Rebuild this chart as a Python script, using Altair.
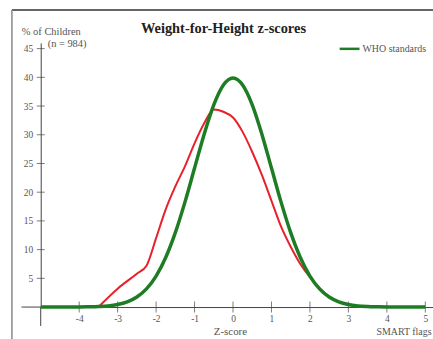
import altair as alt
import pandas as pd

# WHO standard curve (% of children by z-score)
who_z = [-5.0, -4.75, -4.5, -4.25, -4.0, -3.75, -3.5, -3.25, -3.0, -2.75, -2.5, -2.25, -2.0,
         -1.75, -1.5, -1.25, -1.0, -0.75, -0.5, -0.25, 0.0, 0.25, 0.5, 0.75, 1.0, 1.25, 1.5,
         1.75, 2.0, 2.25, 2.5, 2.75, 3.0, 3.25, 3.5, 3.75, 4.0, 4.25, 4.5, 4.75, 5.0]
who_pct = [0.0, 0.0, 0.0, 0.01, 0.01, 0.04, 0.09, 0.2, 0.44, 0.91, 1.75, 3.17, 5.4,
           8.63, 12.95, 18.27, 24.2, 30.11, 35.21, 38.67, 39.89, 38.67, 35.21, 30.11, 24.2, 18.27, 12.95,
           8.63, 5.4, 3.17, 1.75, 0.91, 0.44, 0.2, 0.09, 0.04, 0.01, 0.01, 0.0, 0.0, 0.0]

# Survey data curve
smart_z = [-3.5, -3.0, -2.5, -2.25, -2.0, -1.75, -1.5, -1.25, -1.0, -0.75, -0.5, -0.25, 0.0,
           0.25, 0.5, 0.75, 1.0, 1.25, 1.5, 1.75, 2.0, 2.5, 3.0, 3.5]
smart_pct = [0.0, 3.2, 5.8, 7.2, 12.0, 17.0, 21.0, 24.5, 28.5, 32.0, 34.4, 34.0, 33.0,
             30.5, 27.0, 23.0, 18.5, 14.0, 10.5, 7.5, 5.2, 1.8, 0.4, 0.0]

x_ticks = [-4, -3, -2, -1, 0, 1, 2, 3, 4, 5]
y_ticks = [5, 10, 15, 20, 25, 30, 35, 40, 45]

FONT = "Liberation Serif"
AX = "#444444"

who = pd.DataFrame({"z": who_z, "pct": who_pct})
smart = pd.DataFrame({"z": smart_z, "pct": smart_pct})

xs = alt.Scale(domain=[-5, 5.2], nice=False, zero=False)
ys = alt.Scale(domain=[0, 46], nice=False, zero=False)

x_axis = alt.Axis(values=x_ticks, domain=True, domainColor=AX, ticks=False, grid=False,
                  labelPadding=7, labelFont=FONT, labelFontSize=9.5, labelColor="#555",
                  labelOverlap=False, title=None,
                  labelExpr="datum.value < 0 ? '-' + abs(datum.value) : datum.label")
y_axis = alt.Axis(values=y_ticks, domain=True, domainColor=AX, ticks=False, grid=False,
                  labelPadding=8, labelFont=FONT, labelFontSize=9.5, labelColor="#555",
                  labelOverlap=False, title=None)

X = lambda f: alt.X(f, scale=xs, axis=x_axis)
Y = lambda f: alt.Y(f, scale=ys, axis=y_axis)

base_red = alt.Chart(smart).mark_line(color="#e8202a", strokeWidth=2, interpolate="monotone").encode(
    x=X("z:Q"), y=Y("pct:Q"),
)
green = alt.Chart(who).mark_line(color="#1e7d24", strokeWidth=3.5, interpolate="monotone").encode(
    x=X("z:Q"), y=Y("pct:Q")
)

# axis extensions (cross style)
ext = pd.DataFrame({"x": [-5.5, -5.0], "x2": [-5.0, -5.0], "y": [0.0, 0.0], "y2": [0.0, -3.3]})
ext_rules = alt.Chart(ext).mark_rule(color=AX, strokeWidth=1, clip=False).encode(
    x=X("x:Q"), x2="x2:Q", y=Y("y:Q"), y2="y2:Q"
)

xt = pd.DataFrame({"z": x_ticks, "pct": [0] * len(x_ticks)})
x_tick_marks = alt.Chart(xt).mark_tick(orient="vertical", size=11, thickness=1, color=AX).encode(
    x=X("z:Q"), y=Y("pct:Q")
)
yt = pd.DataFrame({"z": [-5] * len(y_ticks), "pct": y_ticks})
y_tick_marks = alt.Chart(yt).mark_tick(orient="horizontal", size=8, thickness=1, color=AX).encode(
    x=X("z:Q"), y=Y("pct:Q")
)

def txt(s, x, y, size=9, weight="normal", align="left", color="#555"):
    return alt.Chart(pd.DataFrame({"t": [s]})).mark_text(
        font=FONT, fontSize=size, fontWeight=weight, align=align, baseline="middle", color=color
    ).encode(text="t:N", x=alt.value(x), y=alt.value(y))

title = txt("Weight-for-Height z-scores", 184, -14, size=14.5, weight="bold", align="center", color="#222")
ylab1 = txt("% of Children", -19, -11, size=10.5)
ylab2 = txt("(n = 984)", 7, 1, size=10.5)
zlab = txt("Z-score", 191, 291, size=11, align="center")
smartlab = txt("SMART flags", 338, 291, size=10)
leg_text = txt("WHO standards", 324, 6, size=10)
leg_line = alt.Chart(pd.DataFrame({"a": [0]})).mark_rule(color="#1e7d24", strokeWidth=2.5).encode(
    x=alt.value(301), x2=alt.value(321), y=alt.value(6)
)
frame_top = alt.Chart(pd.DataFrame({"a": [0]})).mark_rule(color="#666", strokeWidth=2).encode(
    x=alt.value(-29), x2=alt.value(400), y=alt.value(-33)
)
frame_left = alt.Chart(pd.DataFrame({"a": [0]})).mark_rule(color="#888", strokeWidth=1.5).encode(
    x=alt.value(-29), y=alt.value(-33), y2=alt.value(300)
)

chart = alt.layer(
    frame_top, frame_left, ext_rules, x_tick_marks, y_tick_marks, base_red, green,
    title, ylab1, ylab2, zlab, smartlab, leg_line, leg_text
).properties(
    width=395, height=266,
    padding={"left": 41, "top": 42, "right": 0, "bottom": 31},
    autosize=alt.AutoSizeParams(type="none"),
    background="white",
).configure_view(stroke=None).configure_axis(labelOverlap=False)

chart.save("out.html", embed_options={"renderer": "svg", "actions": False})
